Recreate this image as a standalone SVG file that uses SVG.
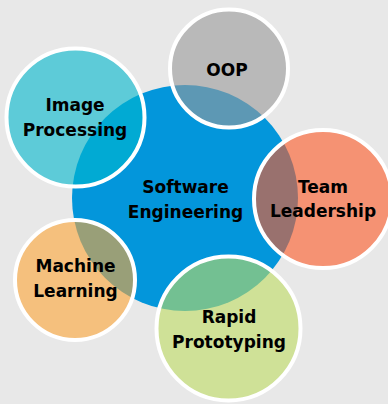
<svg xmlns="http://www.w3.org/2000/svg" width="388" height="404" viewBox="0 0 388 404">
  <style>
    .sat { stroke: #ffffff; stroke-width: 4; fill-opacity: 0.6; }
    .lbl { font-family: "DejaVu Sans", Verdana, sans-serif; font-weight: bold; font-size: 17px; fill: #000000; text-anchor: middle; }
  </style>
  <rect x="0" y="0" width="388" height="404" fill="#e8e8e8"/>

  <!-- hub -->
  <g id="software-engineering">
    <circle cx="185" cy="198" r="113" fill="#0396db"/>
  </g>

  <!-- satellites, translucent over the hub -->
  <g id="oop">
    <circle class="sat" cx="229" cy="68.5" r="59" fill="#9a9a9a"/>
    <text class="lbl" x="227" y="76">OOP</text>
  </g>
  <g id="image-processing">
    <circle class="sat" cx="75.5" cy="117.5" r="69" fill="#00b8cd"/>
    <text class="lbl" x="75" y="111">Image</text>
    <text class="lbl" x="75" y="136">Processing</text>
  </g>
  <g id="team-leadership">
    <circle class="sat" cx="323" cy="199" r="69" fill="#fe5925"/>
    <text class="lbl" x="323" y="192.5">Team</text>
    <text class="lbl" x="323" y="216.7">Leadership</text>
  </g>
  <g id="machine-learning">
    <circle class="sat" cx="75" cy="280" r="60" fill="#fea536"/>
    <text class="lbl" x="75.5" y="271.7">Machine</text>
    <text class="lbl" x="75.5" y="296.5">Learning</text>
  </g>
  <g id="rapid-prototyping">
    <circle class="sat" cx="228.5" cy="328.5" r="72" fill="#bedc60"/>
    <text class="lbl" x="229" y="323.3">Rapid</text>
    <text class="lbl" x="229" y="347.5">Prototyping</text>
  </g>

  <!-- hub label on top -->
  <g id="software-engineering-label">
    <text class="lbl" x="185.5" y="192.5">Software</text>
    <text class="lbl" x="185.5" y="217.5">Engineering</text>
  </g>
</svg>
